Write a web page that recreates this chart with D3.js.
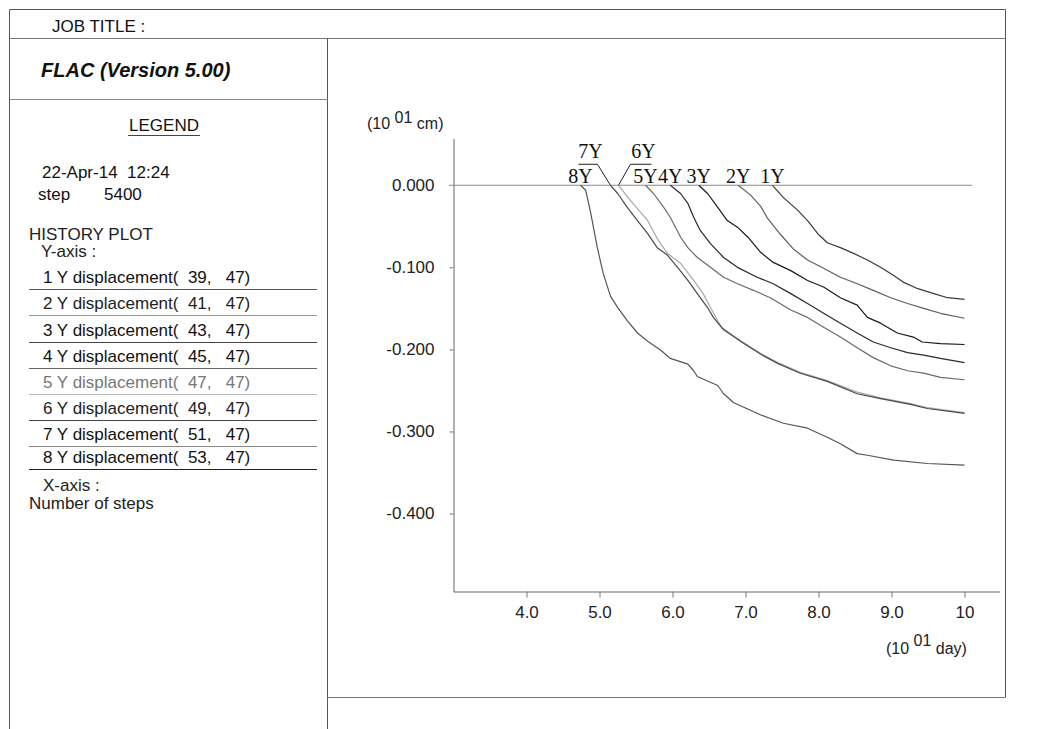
<!DOCTYPE html>
<html><head><meta charset="utf-8">
<script src="https://cdn.jsdelivr.net/npm/d3@7"></script>
<style>
body{margin:0;background:#fff}
svg{display:block}
text{white-space:pre}
</style>
</head><body><svg id="c" width="1054" height="729" font-family="Liberation Sans, Arial, sans-serif"></svg>
<script>
// ---- data (x in 10^1 day, y in 10^1 cm) ----
const seriesNames = ["1Y","2Y","3Y","4Y","5Y","6Y","7Y","8Y"];
const legendLabels = [
  "1 Y displacement(  39,   47)",
  "2 Y displacement(  41,   47)",
  "3 Y displacement(  43,   47)",
  "4 Y displacement(  45,   47)",
  "5 Y displacement(  47,   47)",
  "6 Y displacement(  49,   47)",
  "7 Y displacement(  51,   47)",
  "8 Y displacement(  53,   47)"
];
const s1Days = [7.37,7.52,7.71,7.85,7.99,8.12,8.30,8.48,8.67,8.85,9.03,9.16,9.36,9.58,9.77,10.0];
const s1Disp = [0,-0.015,-0.030,-0.043,-0.059,-0.070,-0.076,-0.083,-0.091,-0.100,-0.110,-0.118,-0.126,-0.132,-0.137,-0.139];
const s2Days = [6.90,7.07,7.21,7.30,7.48,7.66,7.85,8.07,8.30,8.53,8.75,8.99,9.22,9.44,9.67,10.0];
const s2Disp = [0,-0.012,-0.026,-0.040,-0.060,-0.078,-0.091,-0.101,-0.112,-0.120,-0.128,-0.137,-0.144,-0.150,-0.156,-0.162];
const s3Days = [6.36,6.48,6.62,6.75,6.89,7.03,7.21,7.38,7.62,7.85,8.07,8.30,8.53,8.67,8.85,9.08,9.30,9.42,9.67,10.0];
const s3Disp = [0,-0.010,-0.027,-0.043,-0.051,-0.063,-0.082,-0.094,-0.104,-0.116,-0.124,-0.137,-0.146,-0.161,-0.168,-0.180,-0.185,-0.191,-0.193,-0.194];
const s4Days = [5.97,6.11,6.21,6.29,6.38,6.52,6.70,6.89,7.16,7.38,7.62,7.85,8.07,8.30,8.53,8.75,8.99,9.22,9.44,9.67,10.0];
const s4Disp = [0,-0.010,-0.022,-0.039,-0.055,-0.071,-0.088,-0.100,-0.112,-0.120,-0.132,-0.144,-0.156,-0.168,-0.180,-0.191,-0.198,-0.204,-0.207,-0.211,-0.216];
const s5Days = [5.63,5.74,5.88,5.97,6.01,6.11,6.21,6.34,6.52,6.70,6.89,7.11,7.34,7.62,7.85,8.07,8.30,8.53,8.75,8.99,9.22,9.44,9.67,10.0];
const s5Disp = [0,-0.010,-0.027,-0.039,-0.046,-0.063,-0.076,-0.088,-0.100,-0.112,-0.120,-0.128,-0.137,-0.152,-0.161,-0.173,-0.185,-0.198,-0.210,-0.220,-0.226,-0.229,-0.234,-0.237];
const s6Days = [5.26,5.42,5.66,5.79,5.93,6.11,6.29,6.42,6.52,6.62,6.70,6.93,7.21,7.44,7.75,8.12,8.53,8.85,9.26,9.49,10.0];
const s6Disp = [0,-0.018,-0.043,-0.065,-0.083,-0.095,-0.116,-0.132,-0.149,-0.165,-0.177,-0.189,-0.205,-0.216,-0.228,-0.238,-0.252,-0.259,-0.266,-0.271,-0.277];
const s7Days = [5.15,5.25,5.38,5.52,5.66,5.79,5.93,6.07,6.21,6.38,6.48,6.56,6.68,6.93,7.21,7.44,7.75,8.12,8.53,8.85,9.26,9.49,10.0];
const s7Disp = [0,-0.010,-0.027,-0.043,-0.059,-0.076,-0.085,-0.100,-0.116,-0.137,-0.149,-0.161,-0.174,-0.190,-0.206,-0.217,-0.229,-0.239,-0.254,-0.260,-0.267,-0.272,-0.278];
const s8Days = [4.74,4.81,4.88,4.97,5.05,5.15,5.25,5.38,5.52,5.66,5.84,5.97,6.21,6.29,6.34,6.62,6.70,6.84,7.21,7.52,7.85,8.12,8.30,8.53,8.67,9.03,9.49,10.0];
const s8Disp = [0,-0.006,-0.034,-0.076,-0.107,-0.135,-0.149,-0.165,-0.180,-0.190,-0.201,-0.211,-0.218,-0.226,-0.233,-0.244,-0.254,-0.265,-0.280,-0.290,-0.296,-0.307,-0.315,-0.327,-0.329,-0.335,-0.339,-0.341];

const xTickValues = [4,5,6,7,8,9,10];
const xTickLabels = ["4.0","5.0","6.0","7.0","8.0","9.0","10"];
const yTickValues = [0,-0.1,-0.2,-0.3,-0.4];
const yTickLabels = ["0.000","-0.100","-0.200","-0.300","-0.400"];

// ---- styles ----
const curveColors = ["#3a3a3a","#5e5e5e","#1a1a1a","#2a2a2a","#6a6a6a","#a8a8a8","#4a4a4a","#555555"];
const sepColors   = ["#555","#999","#444","#666","#bbb","#444","#888","#222"];
const textColors  = ["#111","#222","#111","#111","#777","#222","#111","#111"];
const SANS = "'Liberation Sans', Arial, sans-serif";
const SERIF = "'Liberation Serif', 'Times New Roman', serif";

const daysList = [s1Days,s2Days,s3Days,s4Days,s5Days,s6Days,s7Days,s8Days];
const dispList = [s1Disp,s2Disp,s3Disp,s4Disp,s5Disp,s6Disp,s7Disp,s8Disp];
const series = seriesNames.map((n,i)=>({name:n, pts: daysList[i].map((d,j)=>[d, dispList[i][j]])}));

const svg = d3.select("#c");
svg.append("rect").attr("width",1054).attr("height",729).attr("fill","#fff");

// ---- frame ----
const frame = svg.append("g").attr("stroke","#555").attr("stroke-width",1).attr("fill","none");
const seg = (x1,y1,x2,y2,c)=>frame.append("line").attr("x1",x1).attr("y1",y1).attr("x2",x2).attr("y2",y2).attr("stroke",c||"#555");
seg(9.5,9.5,1005.5,9.5);
seg(9.5,9.5,9.5,729);
seg(1005.5,9.5,1005.5,697.5);
seg(9.5,38.5,1005.5,38.5,"#777");
seg(327.5,38.5,327.5,729);
seg(9.5,99.5,327.5,99.5,"#888");
seg(327.5,697.5,1005.5,697.5,"#777");

const txt = (xp,yp,s,size,col)=>svg.append("text").attr("x",xp).attr("y",yp).attr("font-size",size||17)
  .attr("fill",col||"#111").style("font-family",SANS).text(s);

// ---- header texts ----
txt(52,32,"JOB TITLE :");
txt(41,77,"FLAC (Version 5.00)",20).attr("font-weight","bold").attr("font-style","italic");
txt(164,131,"LEGEND").attr("text-anchor","middle");
seg(128,135.5,200,135.5,"#444");

txt(42,178,"22-Apr-14  12:24");
txt(38,200,"step");
txt(104,200,"5400");
txt(29,240,"HISTORY PLOT","17","#222");
txt(41,257,"Y-axis :",17,"#222");

const legBase = [283,309,336,362,388,414,440,463];
legendLabels.forEach((t,i)=>{
  txt(43,legBase[i],t,17,textColors[i]);
  seg(29,legBase[i]+6.5,317,legBase[i]+6.5,sepColors[i]);
});
txt(43,491,"X-axis :",17,"#222");
txt(29,509,"Number of steps",17,"#222");

// ---- scales ----
const x = d3.scaleLinear().domain([3.0, 3.0 + 546/73]).range([453.5, 999.5]);
const y = d3.scaleLinear().domain([-0.495, 0.057]).range([591.5, 138.5]);

// axes
const gx = svg.append("g").attr("transform","translate(0,591.5)")
  .call(d3.axisBottom(x).tickValues(xTickValues).tickFormat((d,i)=>xTickLabels[i]).tickSize(6).tickSizeOuter(0).tickPadding(8));
const gy = svg.append("g").attr("transform","translate(453.5,0)")
  .call(d3.axisLeft(y).tickValues(yTickValues).tickFormat((d,i)=>yTickLabels[i]).tickSize(4).tickSizeOuter(0).tickPadding(15));
[gx,gy].forEach(g=>{
  g.select(".domain").attr("stroke","#666");
  g.selectAll(".tick line").attr("stroke","#777");
  g.selectAll(".tick text").attr("font-size",17).attr("fill","#222").style("font-family",SANS);
});
gy.selectAll(".tick line").filter(d=>d===0).remove();

// zero line
svg.append("line").attr("x1",449).attr("x2",972).attr("y1",y(0)).attr("y2",y(0)).attr("stroke","#888").attr("stroke-width",1);

// axis unit labels
const yl = txt(367,129,"",16,"#222");
yl.append("tspan").text("(10 ");
yl.append("tspan").attr("dy",-6).text("01");
yl.append("tspan").attr("dy",6).text(" cm)");
const xl = txt(886,654,"",16,"#222");
xl.append("tspan").text("(10 ");
xl.append("tspan").attr("dy",-8).text("01");
xl.append("tspan").attr("dy",8).text(" day)");

// ---- curves ----
const line = d3.line().x(d=>x(d[0])).y(d=>y(d[1]));
series.forEach((s,i)=>{
  svg.append("path").attr("d",line(s.pts)).attr("fill","none")
    .attr("stroke",curveColors[i]).attr("stroke-width",1.2).attr("stroke-linejoin","round");
});

// ---- curve labels ----
const lab = svg.append("g");
const ltxt = (xp,yp,s)=>lab.append("text").attr("x",xp).attr("y",yp).attr("text-anchor","middle")
  .attr("font-size",20).attr("fill","#111").style("font-family",SERIF).text(s);
series.forEach((s,i)=>{
  const sx = x(s.pts[0][0]), sy = y(s.pts[0][1]);
  if (s.name === "7Y") {
    ltxt(sx-20, sy-27, s.name);
    lab.append("polyline").attr("points",[[sx-32,sy-21],[sx-13,sy-21],[sx,sy]].join(" "))
      .attr("fill","none").attr("stroke","#222").attr("stroke-width",1);
  } else if (s.name === "6Y") {
    ltxt(sx+25, sy-27, s.name);
    lab.append("polyline").attr("points",[[sx+33,sy-21],[sx+12,sy-21],[sx,sy]].join(" "))
      .attr("fill","none").attr("stroke","#222").attr("stroke-width",1);
  } else {
    ltxt(sx, sy-2, s.name);
  }
});
</script>
</body></html>
